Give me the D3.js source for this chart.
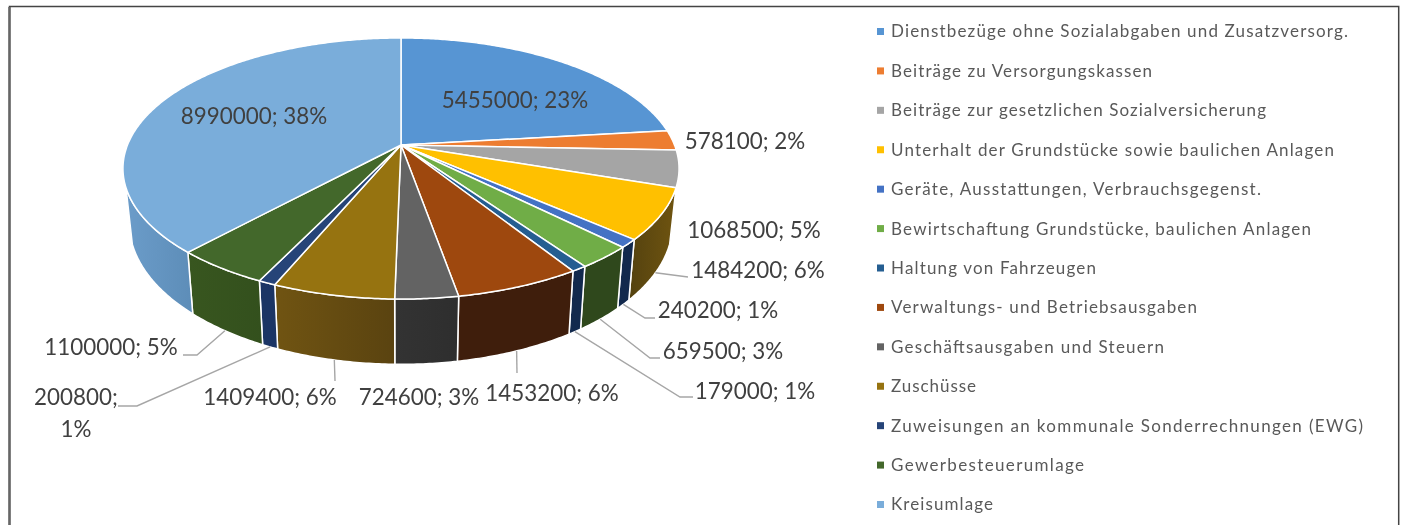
<!DOCTYPE html>
<html>
<head>
<meta charset="utf-8">
<script src="https://cdnjs.cloudflare.com/ajax/libs/d3/7.8.5/d3.min.js"></script>
<style>
	html, body { margin: 0; padding: 0; background: #fff; }
	svg { display: block; filter: blur(0.35px); }
	text { font-family: Lato, 'Open Sans', sans-serif; }
</style>
</head>
<body>
<div id="chart"></div>
<script>
// Values
const categories = [
	'Dienstbezüge ohne Sozialabgaben und Zusatzversorg.',
	'Beiträge zu Versorgungskassen',
	'Beiträge zur gesetzlichen Sozialversicherung',
	'Unterhalt der Grundstücke sowie baulichen Anlagen',
	'Geräte, Ausstattungen, Verbrauchsgegenst.',
	'Bewirtschaftung Grundstücke, baulichen Anlagen',
	'Haltung von Fahrzeugen',
	'Verwaltungs- und Betriebsausgaben',
	'Geschäftsausgaben und Steuern',
	'Zuschüsse',
	'Zuweisungen an kommunale Sonderrechnungen (EWG)',
	'Gewerbesteuerumlage',
	'Kreisumlage'
];
const values = [5455000, 578100, 1068500, 1484200, 240200, 659500, 179000, 1453200, 724600, 1409400, 200800, 1100000, 8990000];

const topColors = ['#5795d3', '#ed7d31', '#a5a5a5', '#ffc000', '#4472c4', '#70ad47', '#255e91', '#9e480e', '#636363', '#967310', '#264478', '#43682b', '#7aadda'];
// wall shading, left and right end of each slice
const wallLeft = ['#2c4f70', '#7a4018', '#555555', '#54420f', '#12294d', '#2f481c', '#12294d', '#3f1e0c', '#333333', '#705412', '#1b3565', '#38561f', '#6b9cc9'];
const wallRight = ['#2c4f70', '#7a4018', '#555555', '#6f5410', '#12294d', '#2f481c', '#12294d', '#3f1e0c', '#2e2e2e', '#5a4310', '#1b3565', '#33501d', '#5d8db8'];

// label centres [x, y]
const labelPos = [[515, 100], [745, 141], [754, 230], [758, 270], [718, 310], [723, 351], [755, 391], [552, 393], [419, 397], [270, 397], [76, 397], [111, 347], [254, 116]];
// leader line elbows, from the rim to the label
const leaderPts = [null, null, null, [[688, 277]], [[645, 318], [655, 318]], [[650, 358], [660, 358]], [[680, 397], [693, 397]], [[517, 373]], null, [[335, 381]], [[137, 406], [118, 406]], [[197, 355], [183, 355]], null];
// legend text widths, the original has uneven letter spacing
const legendWidths = [457, 261, 375, 443, 370, 420, 205, 306, 273, 85, 472, 193, 102];

let width = 1404,
	height = 525,
	hubX = 401,
	hubY = 145,
	radiusX = 273.5,
	radiusY = 126.3,
	tilt = 0.18,
	wallLimit = 108.6 * Math.PI / 180;

let svg = d3.select('#chart').append('svg')
	.attr('width', width)
	.attr('height', height);

// frame
svg.append('path')
	.attr('d', 'M9.5,525V6.5H1398.7V525')
	.attr('fill', 'none')
	.attr('stroke', '#444')
	.attr('stroke-width', 1.5);
svg.append('path')
	.attr('d', 'M9.5,7V525')
	.attr('stroke', '#666')
	.attr('stroke-width', 2.5);

// Perspective projection of the pie circle, angle 0 is at twelve o'clock
let topPoint = (a) => {
	let u = Math.sin(a),
		v = -Math.cos(a),
		w = 1 - tilt * v;
	return [hubX + radiusX * u / w, hubY + radiusY * v / w];
};
let bottomPoint = (a) => {
	let p = topPoint(a);
	return [hubX + (p[0] - hubX) * 0.977, hubY + 53 + (p[1] - hubY) * 1.08];
};
let arcPoints = (fn, a0, a1) => {
	let n = Math.max(2, Math.ceil((a1 - a0) / 0.01));
	return d3.range(n + 1).map((i) => fn(a0 + (a1 - a0) * i / n));
};

let slices = d3.pie().sort(null).value((d) => d)(values);
let total = d3.sum(values);
let line = d3.line();

let defs = svg.append('defs');
slices.forEach((s, i) => {
	let grad = defs.append('linearGradient').attr('id', 'wall' + i);
	grad.append('stop').attr('offset', '0%').attr('stop-color', wallLeft[i]);
	grad.append('stop').attr('offset', '100%').attr('stop-color', wallRight[i]);
});

// Side walls, only the front part of the drum shows
let walls = slices.filter((s) => s.endAngle > wallLimit && s.startAngle < 2 * Math.PI - wallLimit);
svg.append('g').selectAll('path')
	.data(walls)
	.enter()
	.append('path')
	.attr('d', (s) => {
		let a0 = Math.max(s.startAngle, wallLimit),
			a1 = Math.min(s.endAngle, 2 * Math.PI - wallLimit);
		return line(arcPoints(topPoint, a0, a1).concat(arcPoints(bottomPoint, a0, a1).reverse())) + 'Z';
	})
	.attr('fill', (s) => 'url(#wall' + s.index + ')')
	.attr('stroke', '#fff')
	.attr('stroke-width', 1.5)
	.attr('stroke-linejoin', 'round');

// Top face
svg.append('g').selectAll('path')
	.data(slices)
	.enter()
	.append('path')
	.attr('d', (s) => line([[hubX, hubY]].concat(arcPoints(topPoint, s.startAngle, s.endAngle))) + 'Z')
	.attr('fill', (s) => topColors[s.index])
	.attr('stroke', '#fff')
	.attr('stroke-width', 1.5)
	.attr('stroke-linejoin', 'round');

// Leader lines
svg.append('g').selectAll('path')
	.data(slices.filter((s) => leaderPts[s.index]))
	.enter()
	.append('path')
	.attr('d', (s) => line([bottomPoint((s.startAngle + s.endAngle) / 2)].concat(leaderPts[s.index])))
	.attr('fill', 'none')
	.attr('stroke', '#a6a6a6')
	.attr('stroke-width', 1.4);

// Data labels
let labelGroup = svg.append('g')
	.attr('fill', '#404040')
	.style('font-size', '22.4px');
slices.forEach((s, i) => {
	let pct = Math.round(s.value / total * 100) + '%',
		text = labelGroup.append('text')
			.attr('text-anchor', 'middle')
			.attr('x', labelPos[i][0])
			.attr('y', labelPos[i][1])
			.attr('dy', '0.35em');
	if (s.value === 200800) {
		//this one wraps in the original
		text.text(s.value + ';');
		labelGroup.append('text')
			.attr('text-anchor', 'middle')
			.attr('x', labelPos[i][0])
			.attr('y', labelPos[i][1] + 32)
			.attr('dy', '0.35em')
			.text(pct);
	} else {
		text.text(s.value + '; ' + pct);
	}
});

// Legend
let legendY = d3.scalePoint().domain(categories).range([31.5, 504.5]);
let legend = svg.append('g').selectAll('g')
	.data(categories)
	.enter()
	.append('g')
	.attr('transform', (d) => 'translate(877,' + legendY(d) + ')');
legend.append('rect')
	.attr('y', -3.5)
	.attr('width', 7)
	.attr('height', 7)
	.attr('fill', (d, i) => topColors[i]);
legend.append('text')
	.attr('x', 14)
	.attr('dy', '0.35em')
	.attr('fill', '#595959')
	.attr('textLength', (d, i) => legendWidths[i])
	.attr('lengthAdjust', 'spacing')
	.style('font-size', '17px')
	.text((d) => d);
</script>
</body>
</html>
